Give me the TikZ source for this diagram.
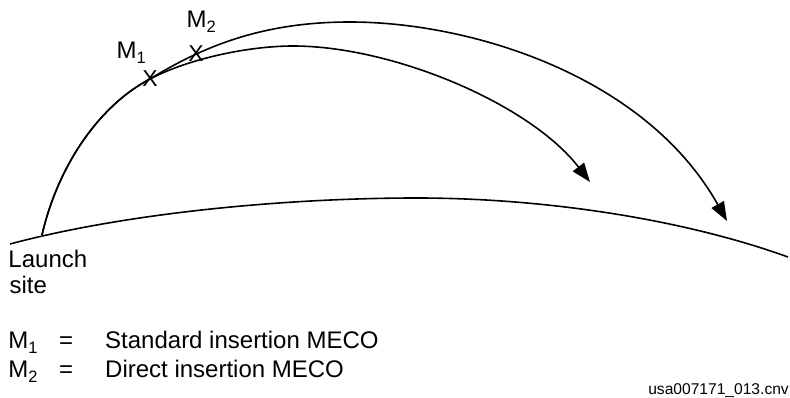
\documentclass[tikz,border=0pt]{standalone}
\usepackage{fontspec}
\setmainfont{Liberation Sans}
\usetikzlibrary{arrows.meta}
\newcommand{\Msub}[1]{M{\fontsize{16.5}{16.5}\selectfont\raisebox{-5pt}{#1}}}
\begin{document}
\begin{tikzpicture}[x=1pt,y=-1pt,
  curve/.style={line width=1.6pt, line join=round},
  arr/.style={curve, -{Triangle[length=19pt,width=14pt]}},
  lbl/.style={inner sep=0pt, anchor=base west, font=\fontsize{24}{28}\selectfont},
  xmark/.style={inner sep=0pt, font=\fontsize{23}{27}\selectfont},
  foot/.style={inner sep=0pt, anchor=base east, font=\fontsize{15.6}{18}\selectfont}]
\useasboundingbox (0,0) rectangle (790,398);

% key points
\coordinate (gstart) at (10,244);
\coordinate (gtop) at (417,198);
\coordinate (gend) at (788,257);
\coordinate (launch) at (42,235);
\coordinate (m1pt) at (150,79);
\coordinate (m2pt) at (196,54);
\coordinate (innertop) at (293,46);
\coordinate (outertop) at (350,22);
\coordinate (innerend) at (590,182);
\coordinate (outerend) at (727,221);

% earth surface
\draw[curve] (gstart) .. controls (130,212) and (290,198) .. (gtop)
                     .. controls (540,198) and (680,218) .. (gend);

% standard insertion trajectory
\draw[arr] (launch) .. controls (58,165) and (100,105) .. (m1pt)
                    .. controls (190,58) and (250,46) .. (innertop)
                    .. controls (393,46) and (530,104) .. (innerend);

% direct insertion trajectory
\draw[arr] (launch) .. controls (58,165) and (100,105) .. (m1pt)
                    .. controls (210,42) and (270,22) .. (outertop)
                    .. controls (470,22) and (645,75) .. (outerend);

% MECO marks
\node[xmark] (m1x) at (m1pt) {X};
\node[xmark] (m2x) at (m2pt) {X};
\node[lbl] (m1lbl) at (116.5,59) {\Msub{1}};
\node[lbl] (m2lbl) at (186.5,28) {\Msub{2}};

% launch site
\node[lbl] (launchlbl) at (8.3,268) {Launch};
\node[lbl] (sitelbl) at (9.3,293) {site};

% legend
\node[lbl] (leg1m) at (8.3,348) {\Msub{1}};
\node[lbl] (leg1eq) at (59,348) {=};
\node[lbl] (leg1t) at (105,348) {Standard insertion MECO};
\node[lbl] (leg2m) at (8.3,377) {\Msub{2}};
\node[lbl] (leg2eq) at (59,377) {=};
\node[lbl] (leg2t) at (105,377) {Direct insertion MECO};

% file name
\node[foot] (fname) at (789,394.5) {usa007171\_013.cnv};
\end{tikzpicture}
\end{document}
